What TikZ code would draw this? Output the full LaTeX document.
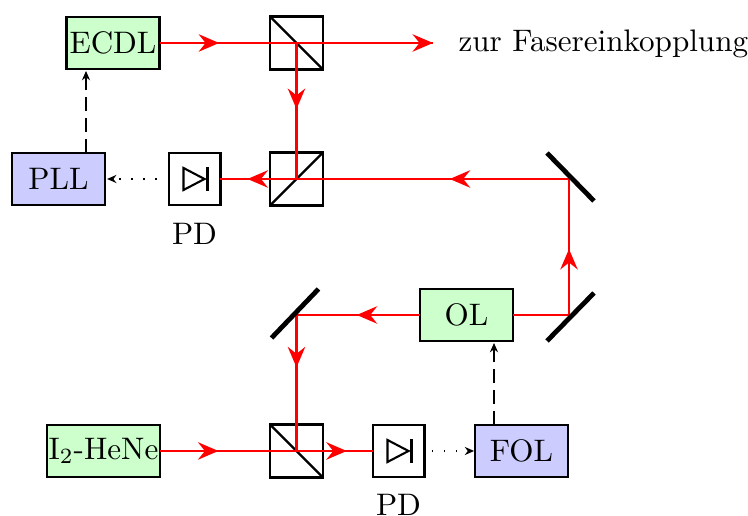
\documentclass[tikz,border=0pt]{standalone}
\usetikzlibrary{arrows.meta,decorations.markings,calc}
\definecolor{boxgreen}{rgb}{0.8,1,0.8}
\definecolor{boxblue}{rgb}{0.8,0.8,1}
\tikzset{
  x=0.33333pt,y=-0.33333pt,
  every node/.style={font=\fontsize{10.37}{12.4}\selectfont},
  ray/.style={draw=red,line width=0.8pt},
  raytip/.tip={Stealth[length=6.8pt,width=5.8pt,inset=2.3pt,red]},
  raymark/.style={postaction={decorate,decoration={markings,mark=at position #1 with {\arrow{raytip}}}}},
  smalltip/.tip={Stealth[length=3.1pt,width=2.7pt,inset=1pt]},
  devbox/.style={draw,line width=0.8pt,inner sep=0pt,minimum width=31pt,minimum height=17.3pt,outer sep=0pt},
  greenbox/.style={devbox,fill=boxgreen},
  bluebox/.style={devbox,fill=boxblue},
  cube/.style={draw,line width=0.8pt,inner sep=0pt,minimum size=17.7pt,outer sep=0pt},
  pdbox/.style={draw,line width=0.8pt,inner sep=0pt,minimum size=17.2pt,outer sep=0pt},
  mirror/.style={line width=1.6pt},
  ctrl/.style={line width=0.8pt,dash pattern=on 4.8pt off 2.2pt,-{smalltip}},
  sig/.style={line width=0.7pt,dash pattern=on 0.5pt off 3.5pt,-{smalltip}},
  diode/.style={line width=0.7pt},
  pdlabel/.style={inner sep=0pt}
}
\begin{document}
\begin{tikzpicture}
\useasboundingbox (0,0) rectangle (748,516);
% devices
\node[greenbox] (ecdl) at (113,43) {ECDL};
\node[bluebox] (pll) at (58.5,179) {PLL};
\node[greenbox] (ol) at (466.5,315) {OL};
\node[bluebox] (fol) at (521.5,451) {FOL};
\node[greenbox,minimum width=37.6pt] (hene) at (103.5,451) {I\textsubscript{2}-HeNe};
\node[cube] (bsa) at (296.5,43) {};
\node[cube] (bsb) at (296.5,179) {};
\node[cube] (bsc) at (296.5,451) {};
\node[pdbox] (pda) at (194.5,179) {};
\node[pdbox] (pdb) at (398.5,451) {};
\node[pdlabel] (pdal) at (194.5,234) {PD};
\node[pdlabel] (pdbl) at (398.5,504.5) {PD};
\node[inner sep=0pt,anchor=base west] (out) at (458,52) {zur Fasereinkopplung};
% beam splitter faces
\draw[line width=0.8pt] (bsa.north west) -- (bsa.south east);
\draw[line width=0.8pt] (bsb.south west) -- (bsb.north east);
\draw[line width=0.8pt] (bsc.north west) -- (bsc.south east);
% diodes
\foreach \d in {pda,pdb}{
  \draw[diode,line join=miter] ($(\d.center)+(-11,-11)$) -- ($(\d.center)+(10,0)$) -- ($(\d.center)+(-11,11)$) -- cycle;
  \draw[diode] ($(\d.center)+(13,-12)$) -- ($(\d.center)+(13,12)$);
}
% mirror points
\coordinate (ma) at (569,179);
\coordinate (mb) at (569,315);
\coordinate (mc) at (296.5,315);
\coordinate (endray) at (433,43);
% beams
\path[ray,raymark=0.218] (ecdl.east) -- (endray);
\path[ray,-{raytip}] (bsa.center) -- (endray);
\path[ray,raymark=0.485] (bsa.center) -- (bsb.center);
\path[ray,raymark=0.342,raymark=0.922] (ma) -- (pda.east);
\path[ray,raymark=0.485] (mb) -- (ma);
\path[ray] (ol.east) -- (mb);
\path[ray,raymark=0.512] (ol.west) -- (mc);
\path[ray,raymark=0.385] (mc) -- (bsc.center);
\path[ray,raymark=0.275,raymark=0.878] (hene.east) -- (pdb.west);
% mirrors
\draw[mirror] ($(ma)+(-22,-26)$) -- ($(ma)+(25,22)$);
\draw[mirror] ($(mb)+(25,-22)$) -- ($(mb)+(-22,26)$);
\draw[mirror] ($(mc)+(22,-26)$) -- ($(mc)+(-25,23)$);
% control and signal lines
\coordinate (plltop) at (86,153);
\coordinate (ecdlbot) at (86,71);
\coordinate (folol) at (494,425);
\coordinate (olbot) at (494,343);
\draw[ctrl] (plltop) -- (ecdlbot);
\draw[ctrl] (folol) -- (olbot);
\draw[sig,shorten >=0.7pt,shorten <=4pt] (pda.west) -- (pll.east);
\draw[sig,shorten >=0.3pt,shorten <=2.5pt] (pdb.east) -- (fol.west);
\end{tikzpicture}
\end{document}
